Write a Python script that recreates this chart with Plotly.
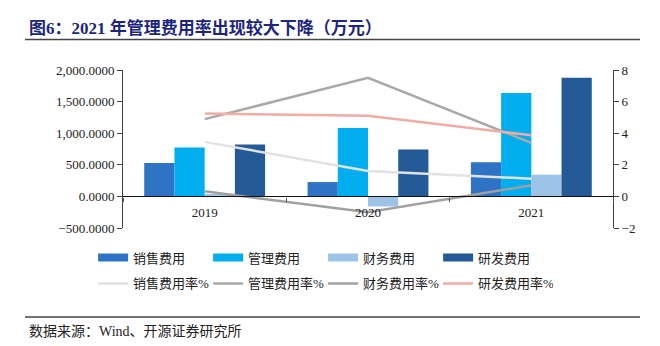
import plotly.graph_objects as go

years = ["2019", "2020", "2021"]
sales = [528, 227, 540]
admin = [772, 1084, 1635]
finance = [40, -159, 344]
rnd = [820, 741, 1878]

sales_rate = [3.45, 1.61, 1.12]
admin_rate = [4.89, 7.51, 3.39]
finance_rate = [0.32, -1.00, 0.70]
rnd_rate = [5.25, 5.10, 3.87]

bar_names = ["销售费用", "管理费用", "财务费用", "研发费用"]
bar_colors = ["#2E73C4", "#00AEEF", "#9DC3E6", "#245A98"]
line_names = ["销售费用率%", "管理费用率%", "财务费用率%", "研发费用率%"]
line_colors = ["#E2E2E2", "#A9A9A9", "#A0A0A0", "#F0ADA6"]

FONT = "Liberation Serif, 'Times New Roman', 'Noto Sans CJK SC', serif"

fig = go.Figure()
for name, vals, col in zip(bar_names, [sales, admin, finance, rnd], bar_colors):
    fig.add_trace(go.Bar(x=years, y=vals, name=name, marker_color=col,
                         marker_line_width=0, showlegend=False, yaxis="y"))
# legend proxies for bars (wide rectangles)
for name, col in zip(bar_names, bar_colors):
    fig.add_trace(go.Scatter(x=[None], y=[None], mode="lines", name=name,
                             line=dict(color=col, width=8), yaxis="y", legend="legend"))
for name, vals, col in zip(line_names, [sales_rate, admin_rate, finance_rate, rnd_rate], line_colors):
    fig.add_trace(go.Scatter(x=years, y=vals, name=name, mode="lines",
                             line=dict(color=col, width=2.5), yaxis="y2", legend="legend2"))

axis_col = "#404040"
leg_common = dict(orientation="h", x=-0.061, xanchor="left", yanchor="top",
                  entrywidth=70, entrywidthmode="pixels", traceorder="normal",
                  font=dict(size=13, color="#222222", family=FONT),
                  bgcolor="rgba(0,0,0,0)", itemwidth=30)
fig.update_layout(
    width=660, height=346,
    margin=dict(l=123, r=47, t=70, b=118),
    paper_bgcolor="white", plot_bgcolor="white",
    font=dict(family=FONT, size=13, color="#222222"),
    barmode="group", bargap=0.26, bargroupgap=0,
    xaxis=dict(type="category", range=[-0.5, 2.5], anchor="free", position=(0 + 500) / 2500,
               showline=True, linecolor="#111111", linewidth=1.2,
               ticks="outside", tickson="boundaries", ticklen=4, tickcolor="#555555",
               ticklabelstandoff=4,
               showgrid=False, tickfont=dict(size=13, color="#222222")),
    yaxis=dict(range=[-500, 2000], tickvals=[-500, 0, 500, 1000, 1500, 2000],
               tickformat=",.4f", showgrid=False, zeroline=False,
               showline=True, linecolor=axis_col, linewidth=1,
               ticks="outside", ticklen=5, tickcolor=axis_col,
               tickfont=dict(size=13, color="#222222")),
    yaxis2=dict(range=[-2, 8], tickvals=[-2, 0, 2, 4, 6, 8], overlaying="y", side="right",
                showgrid=False, zeroline=False, showline=True, linecolor=axis_col, linewidth=1,
                ticks="outside", ticklen=5, tickcolor=axis_col,
                tickfont=dict(size=13, color="#222222")),
    legend=dict(leg_common, y=-0.092),
    legend2=dict(leg_common, y=-0.256),
)

# title and footer
fig.add_annotation(xref="paper", yref="paper", x=-(123 - 27) / 490, y=1 + (70 - 28) / 158,
                   xanchor="left", yanchor="middle", showarrow=False,
                   text="<b>图6：2021 年管理费用率出现较大下降（万元）</b>",
                   font=dict(size=17, color="#1C2580", family=FONT))
fig.add_annotation(xref="paper", yref="paper", x=-(123 - 27) / 490, y=-(331 - 228) / 158,
                   xanchor="left", yanchor="middle", showarrow=False,
                   text="数据来源：Wind、开源证券研究所",
                   font=dict(size=14, color="#222222", family=FONT))
for yy in [39.5, 317]:
    fig.add_shape(type="line", xref="paper", yref="paper",
                  x0=-(123 - 25) / 490, x1=(640 - 123) / 490,
                  y0=(228 - yy) / 158, y1=(228 - yy) / 158,
                  line=dict(color="#444444", width=1.5))

fig.write_html("out.html")
